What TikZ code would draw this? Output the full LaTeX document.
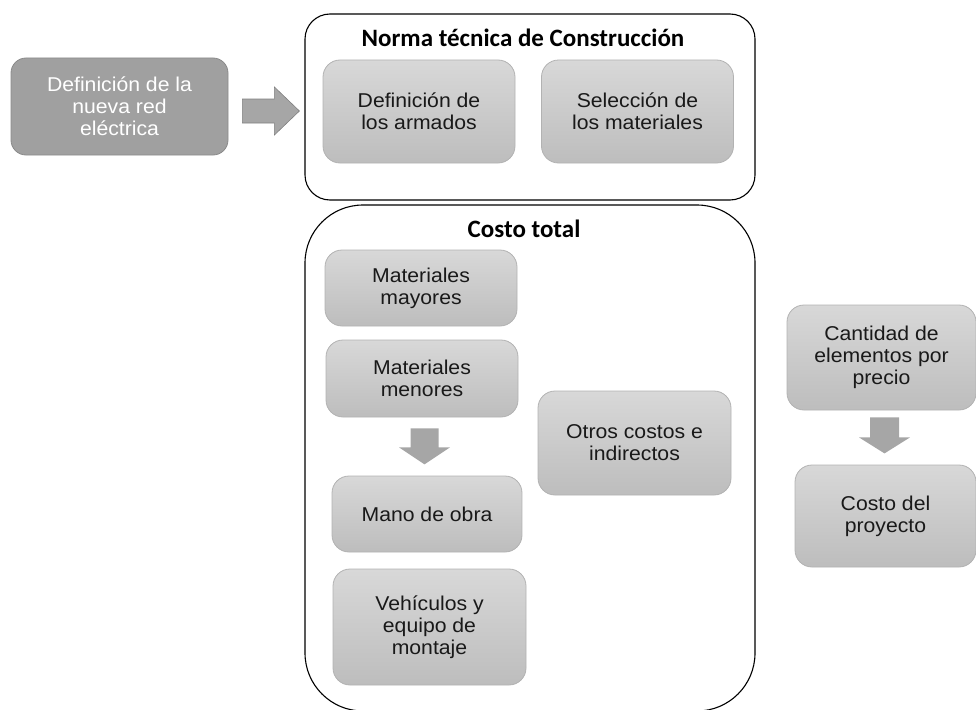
\documentclass[tikz,border=0pt]{standalone}
\usepackage{fontspec}
\setmainfont{Liberation Sans}[FakeStretch=1.06]
\newfontfamily\titlefont{Carlito}
\usetikzlibrary{calc}

\definecolor{boxtop}{HTML}{D8D8D8}
\definecolor{boxbot}{HTML}{BDBDBD}
\definecolor{boxline}{HTML}{B2B2B2}
\definecolor{leadfill}{HTML}{A0A0A0}
\definecolor{leadline}{HTML}{8A8A8A}
\definecolor{arrowgray}{HTML}{A6A6A6}
\definecolor{arrowline}{HTML}{808080}

\tikzset{
    item/.style={rounded corners=17pt, shade, top color=boxtop, bottom color=boxbot,
        draw=boxline, line width=0.8pt, align=center, text=black!90,
        font=\fontsize{20}{22}\selectfont},
    lead/.style={rounded corners=15pt, fill=leadfill, draw=leadline, line width=0.8pt,
        align=center, text=white, font=\fontsize{20}{22}\selectfont},
    panel/.style={draw=black, line width=1.1pt},
    paneltitle/.style={font=\titlefont\bfseries\fontsize{25}{27}\selectfont},
    fatarrow/.style={fill=arrowgray}
}

\begin{document}
\begin{tikzpicture}[x=1pt,y=-1pt]

    \useasboundingbox (0,0) rectangle (976,709);
    \clip (0,0) rectangle (976,709);

    \node[lead, minimum width=217pt, minimum height=97pt] (def) at (119.5,106.5)
        {Definición de la\\nueva red\\eléctrica};

    \node[panel, rounded corners=25pt, minimum width=450pt, minimum height=186pt] (norma) at (530,107) {};
    \node[paneltitle] (normatitle) at (523,38) {Norma técnica de Construcción};
    \node[item, minimum width=192pt, minimum height=103pt] (armados) at (419,111.5) {Definición de\\los armados};
    \node[item, minimum width=192pt, minimum height=103pt] (seleccion) at (637.5,111.5) {Selección de\\los materiales};

    \node[panel, rounded corners=58pt, minimum width=450pt, minimum height=506pt] (costo) at (530,458) {};
    \node[paneltitle] (costotitle) at (524,229) {Costo total};
    \node[item, minimum width=192pt, minimum height=76pt] (mayores) at (421,288) {Materiales\\mayores};
    \node[item, minimum width=192pt, minimum height=77pt] (menores) at (422,378.5) {Materiales\\menores};
    \node[item, minimum width=190pt, minimum height=76pt] (mano) at (427,514) {Mano de obra};
    \node[item, minimum width=193pt, minimum height=116pt] (vehiculos) at (429.5,627) {Vehículos y\\equipo de\\montaje};
    \node[item, minimum width=193pt, minimum height=104pt] (otros) at (634.5,443) {Otros costos e\\indirectos};

    \node[item, minimum width=189pt, minimum height=105pt] (cantidad) at (881.5,357.5) {Cantidad de\\elementos por\\precio};
    \node[item, minimum width=181pt, minimum height=102pt] (proyecto) at (885.5,516) {Costo del\\proyecto};

    \draw[fatarrow, draw=arrowline, line width=0.6pt]
        ($(def.east)+(14,-7.5)$) coordinate (arrowdef)
        --++(32,0) --++(0,-12) --++(25,24) --++(-25,24) --++(0,-12) --++(-32,0) --cycle;

    \fill[fatarrow]
        ($(menores.south)+(-11.5,11)$) coordinate (arrowmano)
        --++(28,0) --++(0,19) --++(11.5,0) --++(-25.5,17) --++(-25.5,-17) --++(11.5,0) --cycle;

    \fill[fatarrow]
        ($(cantidad.south)+(-11.5,7)$) coordinate (arrowcosto)
        --++(29,0) --++(0,20) --++(11,0) --++(-25.5,16) --++(-25.5,-16) --++(11,0) --cycle;

\end{tikzpicture}
\end{document}
